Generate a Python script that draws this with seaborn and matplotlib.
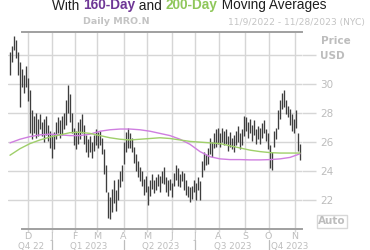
import numpy as np
import pandas as pd
import seaborn as sns
import matplotlib
matplotlib.use("Agg")
import matplotlib.pyplot as plt
import matplotlib.transforms as mtransforms

# ---------------- data ----------------
# daily bars, one entry per bar position (index 0 = 11/9/2022)
bar_low = [30.6, 31.5, 32.3, 31.8, 30.6, 28.4, 29.8, 29.4, 29.8, 28.8,
           26.6, 26.2, 26.6, 26.3, 26.4, 26.9, 26.4, 26.0, 26.5, 26.1,
           25.6, 24.9, 25.5, 26.2, 26.6, 26.3, 26.5, 26.9, 27.2, 28.0,
           27.4, 26.6, 25.8, 25.5, 25.9, 26.2, 26.6, 25.9, 25.3, 25.0,
           25.3, 24.9, 25.4, 25.8, 25.6, 25.8, 25.2, 23.8, 22.6, 20.8,
           20.7, 21.2, 21.8, 21.3, 22.0, 22.9, 23.3, 24.5, 25.3, 25.6,
           25.6, 25.3, 24.6, 24.0, 23.6, 23.3, 23.0, 22.4, 22.6, 21.7,
           22.3, 22.8, 22.5, 22.7, 23.0, 22.6, 23.2, 23.1, 22.6, 22.3,
           22.7, 22.2, 23.0, 23.4, 23.0, 22.9, 23.3, 22.7, 22.4, 22.2,
           21.9, 22.1, 22.6, 22.0, 22.7, 22.0, 23.6, 24.1, 24.4, 24.5,
           25.2, 25.0, 25.6, 25.7, 25.9, 25.7, 26.0, 25.8, 25.9, 25.4,
           25.7, 25.5, 25.3, 25.8, 26.0, 25.5, 25.8, 26.4, 26.8, 26.3,
           26.6, 26.1, 26.5, 25.9, 26.2, 25.9, 26.3, 26.6, 26.1, 25.5,
           24.2, 24.1, 25.7, 26.2, 26.9, 27.6, 28.3, 28.4, 27.9, 27.7,
           27.2, 26.8, 26.6, 27.0, 25.4, 24.8]
bar_high = [32.2, 32.6, 33.3, 33.0, 32.2, 31.5, 31.0, 30.6, 31.2, 30.4,
            29.6, 28.2, 27.8, 28.0, 27.6, 27.9, 27.4, 27.6, 27.8, 27.2,
            26.8, 26.5, 26.7, 27.4, 27.7, 27.5, 27.8, 28.0, 28.9, 29.9,
            29.3, 28.0, 27.0, 26.8, 27.4, 27.6, 27.9, 27.2, 26.5, 26.2,
            26.4, 26.0, 26.5, 26.9, 26.7, 26.8, 26.3, 25.5, 24.4, 22.6,
            22.2, 22.8, 23.4, 22.7, 23.5, 24.0, 24.4, 26.0, 26.7, 27.0,
            26.6, 26.3, 25.7, 25.2, 24.7, 24.3, 24.0, 23.5, 23.7, 23.0,
            23.4, 23.8, 23.4, 23.6, 23.8, 23.7, 24.0, 24.3, 23.6, 23.4,
            23.5, 23.2, 23.9, 24.4, 24.2, 23.8, 24.0, 23.9, 23.4, 23.0,
            22.9, 23.0, 23.4, 23.2, 23.6, 23.3, 24.7, 25.3, 25.2, 25.6,
            26.3, 26.0, 26.6, 26.9, 27.0, 26.6, 27.0, 26.8, 26.9, 26.4,
            26.7, 26.3, 26.5, 26.8, 27.1, 26.6, 26.9, 27.8, 27.7, 27.4,
            27.6, 27.2, 27.5, 26.9, 27.1, 27.0, 27.3, 27.5, 26.9, 26.6,
            25.8, 25.3, 26.8, 27.0, 28.2, 28.9, 29.4, 29.6, 28.9, 28.5,
            28.3, 27.9, 27.6, 28.2, 26.6, 25.9]

# moving averages, sampled every 5 bars
ma_step = 5
ma160 = [25.95, 26.2, 26.38, 26.5, 26.55, 26.5, 26.45, 26.45, 26.55, 26.75,
         26.85, 26.9, 26.9, 26.85, 26.75, 26.6, 26.45, 26.2, 25.85, 25.35,
         25.0, 24.85, 24.8, 24.8, 24.78, 24.78, 24.8, 24.85, 24.95, 25.2]
ma200 = [25.1, 25.55, 25.9, 26.15, 26.35, 26.5, 26.65, 26.68, 26.6, 26.45,
         26.3, 26.2, 26.15, 26.2, 26.25, 26.3, 26.25, 26.15, 26.05, 26.0,
         25.95, 25.9, 25.75, 25.6, 25.45, 25.35, 25.28, 25.25, 25.25, 25.25]

month_labels = ["D", "J", "F", "M", "A", "M", "J", "J", "A", "S", "O", "N"]
month_start_bar = [9, 21, 32.5, 43.5, 56.75, 68.5, 81, 92.5, 104.25, 117.5, 129.25, 142.25]
quarter_labels = ["Q4 22", "Q1 2023", "Q2 2023", "Q3 2023", "Q4 2023"]
quarter_start_bar = [21, 56.75, 92.5, 129.25]
y_ticks = [22, 24, 26, 28, 30, 32]
y_tick_labels = ["22", "24", "26", "28", "30", "USD"]

# ---------------- figure ----------------
sns.set_theme(style="white")
plt.rcParams["font.family"] = ["DejaVu Sans"]

W, H = 370, 250
fig = plt.figure(figsize=(W / 100, H / 100), dpi=100)
ax = fig.add_axes([8 / W, 1 - 229 / H, (302 - 8) / W, (229 - 32) / H])
ax.set_xlim(-1, 146)
ax.set_ylim(20.03, 33.57)

grid_c = "#d6d6d6"
lab_c = "#bdbdbd"

# bars
idx = np.arange(len(bar_low))
ax.vlines(idx, bar_low, bar_high, color="#3e3e3e", lw=0.95, zorder=3)

# moving averages
ma_df = pd.DataFrame({"i": np.arange(len(ma160)) * ma_step,
                      "ma160": ma160, "ma200": ma200})
sns.lineplot(data=ma_df, x="i", y="ma160", ax=ax, color="#cf7ee0", lw=1.0, zorder=4)
sns.lineplot(data=ma_df, x="i", y="ma200", ax=ax, color="#9fcf6a", lw=1.0, zorder=4)
ax.set_xlabel("")
ax.set_ylabel("")

# grid
ax.set_xticks(month_start_bar)
ax.set_xticklabels(month_labels)
ax.set_yticks(y_ticks)
ax.set_yticklabels(y_tick_labels)
ax.grid(True, color=grid_c, lw=1.0, zorder=0)
ax.tick_params(axis="x", length=2, width=1.0, color=grid_c, labelsize=6.8,
               labelcolor=lab_c, pad=0, bottom=True)
ax.yaxis.tick_right()
ax.tick_params(axis="y", length=10, width=1.0, color=grid_c, labelsize=7.5,
               labelcolor=lab_c, pad=3, right=True, left=False)
for t in ax.get_yticklabels():
    if t.get_text() == "USD":
        t.set_fontweight("bold")

for s in ["left", "right"]:
    ax.spines[s].set_visible(False)
for s in ["top", "bottom"]:
    ax.spines[s].set_color("#a0a0a0")
    ax.spines[s].set_linewidth(1.4)
    ax.spines[s].set_bounds(6, 146)

# Price label above USD
ptrans = mtransforms.offset_copy(
    mtransforms.blended_transform_factory(ax.transAxes, ax.transData),
    fig=fig, x=19, y=0, units="dots")
ax.text(1.0, 32.95, "Price", transform=ptrans, ha="left", va="center",
        fontsize=7.5, color=lab_c, fontweight="bold")

# quarter separators and labels
btrans = mtransforms.blended_transform_factory(ax.transData, fig.transFigure)
for q in quarter_start_bar:
    ax.plot([q, q], [1 - 240 / H, 0], color=lab_c, lw=0.9, transform=btrans, clip_on=False)
q_bounds = [-1] + quarter_start_bar + [146]
q_y = 1 - 241.5 / H
for k, lab in enumerate(quarter_labels):
    if k == len(quarter_labels) - 1:
        ax.text(q_bounds[k] + 1.3, q_y, lab, transform=btrans, ha="left", va="top",
                fontsize=6.3, color=lab_c)
    else:
        ax.text((q_bounds[k] + q_bounds[k + 1]) / 2 + 0.5, q_y, lab, transform=btrans,
                ha="center", va="top", fontsize=6.3, color=lab_c)

# Auto box
fig.text(332 / W, 1 - 221.5 / H, "Auto", ha="center", va="center", fontsize=7.5,
         color=lab_c, fontweight="bold",
         bbox=dict(boxstyle="square,pad=0.15", fc="white", ec="#d8d8d8", lw=1))

# subtitle
fig.text(116 / W, 1 - 22 / H, "Daily MRO.N", ha="center", va="center", fontsize=6.8,
         color="#c4c4c4", fontweight="bold")
fig.text(296 / W, 1 - 22 / H, "11/9/2022 - 11/28/2023 (NYC)", ha="center", va="center",
         fontsize=6.6, color="#c4c4c4")

# multi-coloured title
parts = [("With ", "#1e1e1e", "normal"), ("160-Day", "#6f3796", "bold"),
         (" and ", "#1e1e1e", "normal"), ("200-Day", "#8fc75a", "bold"),
         (" Moving Averages", "#1e1e1e", "normal")]
renderer = fig.canvas.get_renderer()
texts = []
widths = []
for s, c, w in parts:
    t = fig.text(0, 1 - 9.5 / H, s, color=c, fontweight=w, fontsize=9.8,
                 family=["Liberation Sans", "DejaVu Sans"], va="baseline", ha="left")
    texts.append(t)
    widths.append(t.get_window_extent(renderer).width)
total = sum(widths)
x0 = 189 - total / 2
for t, wd in zip(texts, widths):
    t.set_x(x0 / W)
    x0 += wd

fig.savefig("out.png", dpi=100)
